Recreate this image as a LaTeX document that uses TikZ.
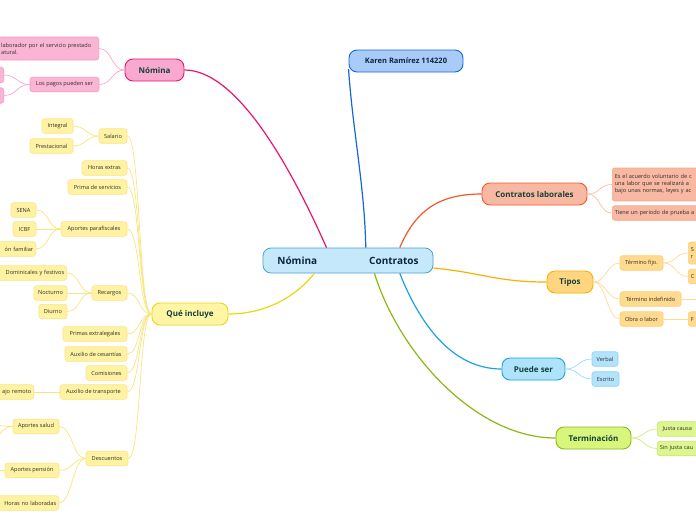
\documentclass[tikz,border=0pt]{standalone}
\usepackage{fontspec}
\setmainfont{Open Sans}
\usetikzlibrary{positioning}

\definecolor{centext}{HTML}{0B2545}
\definecolor{topictext}{HTML}{15403A}
\definecolor{leaftext}{HTML}{2E2E2E}
\definecolor{cenfill}{HTML}{C5E8FA}
\definecolor{cenedge}{HTML}{4A9FD8}
\definecolor{karenfill}{HTML}{A9CBF7}
\definecolor{karenedge}{HTML}{1565D8}
\definecolor{pinkline}{HTML}{E8146E}
\definecolor{pinktopic}{HTML}{F9A9CF}
\definecolor{pinkfill}{HTML}{FBB5D4}
\definecolor{pinkedge}{HTML}{F59BC5}
\definecolor{pinklink}{HTML}{F7A8CB}
\definecolor{yelline}{HTML}{EBD70C}
\definecolor{yeltopic}{HTML}{FFF5A6}
\definecolor{yelfill}{HTML}{FFF3A3}
\definecolor{yeledge}{HTML}{FAE484}
\definecolor{yellink}{HTML}{F8E57E}
\definecolor{salline}{HTML}{F0582A}
\definecolor{saltopic}{HTML}{F9B8A2}
\definecolor{salfill}{HTML}{F9B8A2}
\definecolor{saledge}{HTML}{F8A68C}
\definecolor{sallink}{HTML}{F9BCA8}
\definecolor{tipline}{HTML}{F9B000}
\definecolor{tiptopic}{HTML}{FFD57F}
\definecolor{tipfill}{HTML}{FFDA8F}
\definecolor{tipedge}{HTML}{FFD070}
\definecolor{tiplink}{HTML}{FFDB94}
\definecolor{bluline}{HTML}{1AA3E0}
\definecolor{blutopic}{HTML}{AEE3FB}
\definecolor{blufill}{HTML}{B3E3FA}
\definecolor{bluedge}{HTML}{8AD3F5}
\definecolor{blulink}{HTML}{9ED9F7}
\definecolor{greline}{HTML}{8AB814}
\definecolor{gretopic}{HTML}{D8F57C}
\definecolor{grefill}{HTML}{DDF68F}
\definecolor{greedge}{HTML}{C6EA6A}
\definecolor{grelink}{HTML}{CDED80}

\begin{document}
\begin{tikzpicture}[x=1pt,y=-1pt,
	topic/.style={draw,rounded corners=8pt,line width=0.9pt,minimum height=22pt,inner xsep=4pt,font=\fontsize{8}{9}\selectfont\bfseries,text=topictext},
	leaf/.style={draw,rounded corners=2.5pt,line width=0.6pt,minimum height=14.5pt,inner xsep=2.5pt,inner ysep=1pt,font=\fontsize{5.6}{7}\selectfont,text=leaftext},
	pinkleaf/.style={leaf,fill=pinkfill,draw=pinkedge},
	yelleaf/.style={leaf,fill=yelfill,draw=yeledge},
	salleaf/.style={leaf,fill=salfill,draw=saledge},
	tipleaf/.style={leaf,fill=tipfill,draw=tipedge},
	bluleaf/.style={leaf,fill=blufill,draw=bluedge},
	greleaf/.style={leaf,fill=grefill,draw=greedge},
	link/.style={line width=0.7pt,to path={.. controls +(13,0) and +(-13,0) .. (\tikztotarget)}},
	branch/.style={line width=1.2pt}]
\useasboundingbox (0,0) rectangle (696,520);
\clip (0,0) rectangle (696,520);

\node[draw=cenedge,fill=cenfill,rounded corners=8pt,line width=0.8pt,minimum width=170pt,minimum height=25pt,font=\fontsize{10}{12}\selectfont\bfseries,text=centext] (centro) at (348,260.5) {Nómina\hspace{52pt}Contratos};
\node[topic,draw=karenedge,fill=karenfill,text=centext,minimum width=114pt,font=\fontsize{7.5}{9}\selectfont\bfseries] (karen) at (406,61) {Karen Ramírez 114220};

\node[topic,draw=pinkline,fill=pinktopic,minimum width=59pt] (nomina) at (154.5,70) {Nómina};
\node[pinkleaf,anchor=east,text width=95pt,align=left,minimum height=23pt] (pago) at (99,48.5) {laborador por el servicio prestado\\atural.};
\node[pinkleaf,minimum width=69pt] (pagos) at (64.5,84.5) {Los pagos pueden ser};
\node[pinkleaf,anchor=east,minimum width=30pt,minimum height=15.5pt] (pagoa) at (4,75) {};
\node[pinkleaf,anchor=east,minimum width=30pt,minimum height=15.5pt] (pagob) at (4,95.5) {};

\node[topic,draw=yelline,fill=yeltopic,minimum width=76pt] (incluye) at (190,314) {Qué incluye};
\node[yelleaf,minimum width=28pt] (salario) at (113,136) {Salario};
\node[yelleaf,minimum width=31pt] (integral) at (57.5,126) {Integral};
\node[yelleaf,minimum width=43pt] (prestacional) at (51.5,146) {Prestacional};
\node[yelleaf,minimum width=45pt] (extras) at (104.5,168) {Horas extras};
\node[yelleaf,minimum width=59pt] (prima) at (97.5,187) {Prima de servicios};
\node[yelleaf,minimum width=66pt] (parafiscales) at (94,229) {Aportes parafiscales};
\node[yelleaf,minimum width=25pt] (sena) at (23.5,210) {SENA};
\node[yelleaf,minimum width=23pt] (icbf) at (24.5,229) {ICBF};
\node[yelleaf,anchor=east,text width=60pt,align=right] (caja) at (36,249) {ón familiar};
\node[yelleaf,anchor=east,text width=90pt,align=right] (dominicales) at (67,273) {Dominicales y festivos};
\node[yelleaf,minimum width=33pt] (nocturno) at (50.5,293) {Nocturno};
\node[yelleaf,minimum width=28pt] (diurno) at (53,311.5) {Diurno};
\node[yelleaf,minimum width=35pt] (recargos) at (109.5,293) {Recargos};
\node[yelleaf,minimum width=64pt] (extralegales) at (95,334) {Primas extralegales};
\node[yelleaf,minimum width=62pt] (cesantias) at (96,354) {Auxilio de cesantías};
\node[yelleaf,minimum width=41pt] (comisiones) at (106.5,373) {Comisiones};
\node[yelleaf,minimum width=67pt] (transporte) at (93.5,392) {Auxilio de transporte};
\node[yelleaf,anchor=east,text width=60pt,align=right] (remoto) at (34,392) {ajo remoto};
\node[yelleaf,minimum width=42pt] (descuentos) at (107,458.5) {Descuentos};
\node[yelleaf,minimum width=46pt] (salud) at (36,426.5) {Aportes salud};
\node[yelleaf,minimum width=54pt] (pension) at (32,470.5) {Aportes pensión};
\node[yelleaf,anchor=east,text width=80pt,align=right] (horasno) at (59,503) {Horas no laboradas};
\coordinate (saluda) at (-14,424);
\coordinate (saludb) at (-14,442);
\coordinate (pensiona) at (-14,471);

\node[topic,draw=salline,fill=saltopic,minimum width=105pt] (laborales) at (534.5,194) {Contratos laborales};
\node[salleaf,anchor=west,text width=100pt,align=left,minimum height=33pt] (acuerdo) at (612,184.5) {Es el acuerdo voluntario de c\\una labor que se realizará a\\bajo unas normas, leyes y ac};
\node[salleaf,anchor=west,text width=100pt,align=left] (prueba) at (612,213) {Tiene un periodo de prueba a};

\node[topic,draw=tipline,fill=tiptopic,minimum width=46pt] (tipos) at (570,282) {Tipos};
\node[tipleaf,minimum width=43pt] (fijo) at (641.5,263) {Término fijo.};
\node[tipleaf,minimum width=61pt] (indefinido) at (650.5,299) {Término indefinido};
\node[tipleaf,minimum width=43pt] (obra) at (641.5,319) {Obra o labor};
\node[tipleaf,anchor=west,text width=30pt,align=left,minimum height=22pt] (fijoa) at (688,253) {S\\r};
\node[tipleaf,anchor=west,text width=30pt,align=left] (fijob) at (688,276.5) {C};
\node[tipleaf,anchor=west,text width=30pt,align=left] (obraa) at (688,319) {F};
\coordinate (indefinidoa) at (706,299);

\node[topic,draw=bluline,fill=blutopic,minimum width=63pt] (puede) at (533.5,369) {Puede ser};
\node[bluleaf,minimum width=26pt] (verbal) at (605,359) {Verbal};
\node[bluleaf,minimum width=27pt] (escrito) at (605.5,379) {Escrito};

\node[topic,draw=greline,fill=gretopic,minimum width=75pt] (terminacion) at (593.5,438) {Terminación};
\node[greleaf,anchor=west,minimum width=40pt] (justa) at (657,429) {Justa causa};
\node[greleaf,anchor=west,text width=60pt,align=left] (sinjusta) at (657,448.5) {Sin justa cau};

\draw[branch,pinkline] (nomina.east) .. controls +(50,0) and +(-40,-90) .. (centro.149);
\draw[branch,karenedge] (karen.188) .. controls +(4,60) and +(-1,-60) .. (centro.36);
\draw[branch,salline] (centro.14) .. controls +(15,-35) and +(-45,0) .. (laborales.west);
\draw[branch,tipline] (centro.-5) .. controls +(50,5) and +(-50,0) .. (tipos.west);
\draw[branch,bluline] (centro.-14) .. controls +(20,50) and +(-50,0) .. (puede.west);
\draw[branch,greline] (centro.-26) .. controls +(25,80) and +(-80,0) .. (terminacion.west);
\draw[branch,yelline] (centro.-159) .. controls +(-20,25) and +(35,0) .. (incluye.east);

\draw[link,pinklink] (pago.east) to (nomina.west);
\draw[link,pinklink] (pagos.east) to (nomina.west);
\draw[link,pinklink] (pagoa.east) to (pagos.west);
\draw[link,pinklink] (pagob.east) to (pagos.west);

\draw[link,yellink] (salario.east) to (incluye.west);
\draw[link,yellink] (extras.east) to (incluye.west);
\draw[link,yellink] (prima.east) to (incluye.west);
\draw[link,yellink] (parafiscales.east) to (incluye.west);
\draw[link,yellink] (recargos.east) to (incluye.west);
\draw[link,yellink] (extralegales.east) to (incluye.west);
\draw[link,yellink] (cesantias.east) to (incluye.west);
\draw[link,yellink] (comisiones.east) to (incluye.west);
\draw[link,yellink] (transporte.east) to (incluye.west);
\draw[link,yellink] (descuentos.east) to (incluye.west);
\draw[link,yellink] (integral.east) to (salario.west);
\draw[link,yellink] (prestacional.east) to (salario.west);
\draw[link,yellink] (sena.east) to (parafiscales.west);
\draw[link,yellink] (icbf.east) to (parafiscales.west);
\draw[link,yellink] (caja.east) to (parafiscales.west);
\draw[link,yellink] (dominicales.east) to (recargos.west);
\draw[link,yellink] (nocturno.east) to (recargos.west);
\draw[link,yellink] (diurno.east) to (recargos.west);
\draw[link,yellink] (remoto.east) to (transporte.west);
\draw[link,yellink] (salud.east) to (descuentos.west);
\draw[link,yellink] (pension.east) to (descuentos.west);
\draw[link,yellink] (horasno.east) to (descuentos.west);
\draw[link,yellink] (saluda) to (salud.west);
\draw[link,yellink] (saludb) to (salud.west);
\draw[link,yellink] (pensiona) to (pension.west);

\draw[link,sallink] (laborales.east) to (acuerdo.west);
\draw[link,sallink] (laborales.east) to (prueba.west);

\draw[link,tiplink] (tipos.east) to (fijo.west);
\draw[link,tiplink] (tipos.east) to (indefinido.west);
\draw[link,tiplink] (tipos.east) to (obra.west);
\draw[link,tiplink] (fijo.east) to (fijoa.west);
\draw[link,tiplink] (fijo.east) to (fijob.west);
\draw[link,tiplink] (indefinido.east) to (indefinidoa);
\draw[link,tiplink] (obra.east) to (obraa.west);

\draw[link,blulink] (puede.east) to (verbal.west);
\draw[link,blulink] (puede.east) to (escrito.west);

\draw[link,grelink] (terminacion.east) to (justa.west);
\draw[link,grelink] (terminacion.east) to (sinjusta.west);
\end{tikzpicture}
\end{document}
